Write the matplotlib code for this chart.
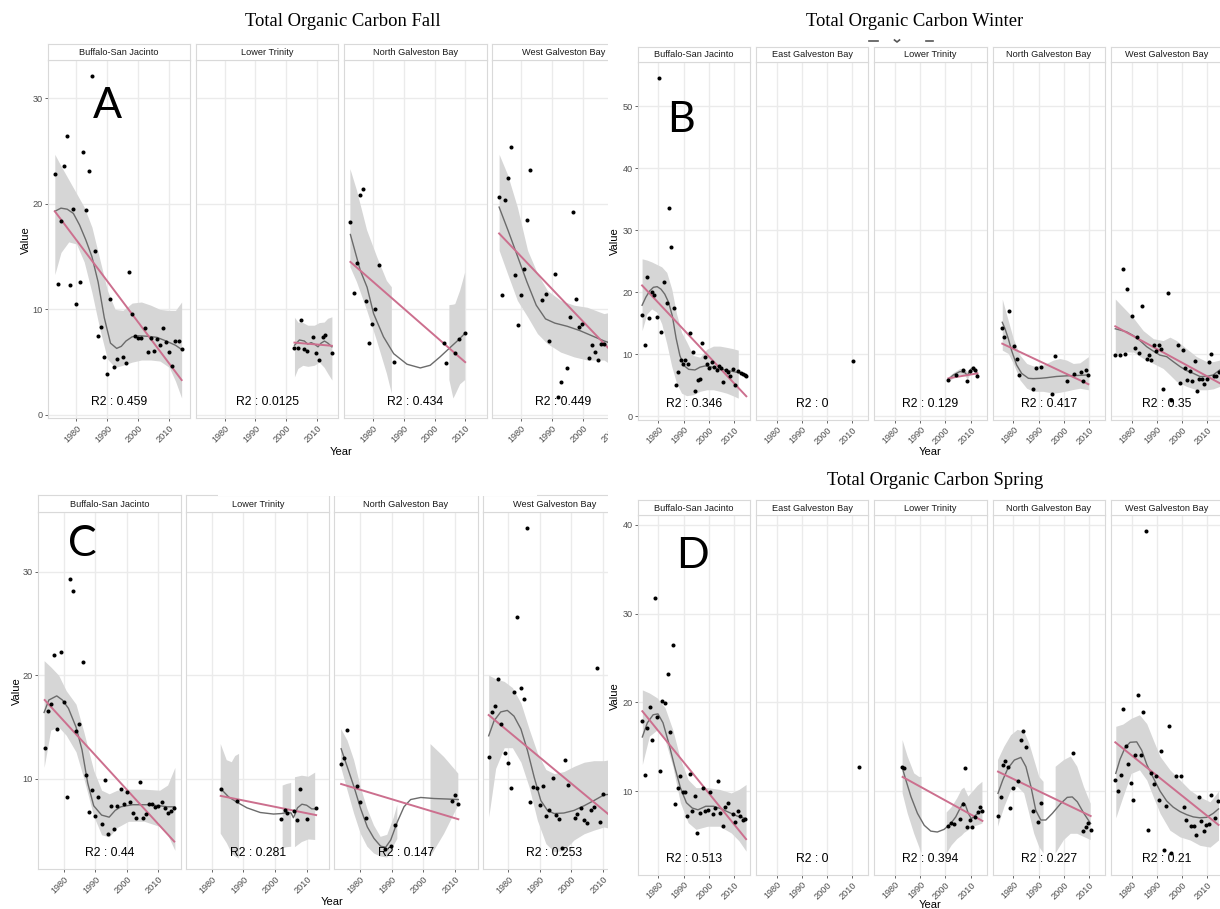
import numpy as np
import matplotlib
matplotlib.use("Agg")
import matplotlib.pyplot as plt
import matplotlib.transforms as mtransforms
from matplotlib.lines import Line2D
from matplotlib.patches import Rectangle

nan = np.nan
W, H = 1220, 909
year_ticks = [1980, 1990, 2000, 2010]

# ================= A : Fall =================
fall_bsj_year = [1973, 1974, 1975, 1976, 1977, 1978, 1979, 1980, 1981, 1982, 1983, 1984,
                 1985, 1986, 1987, 1988, 1989, 1990, 1991, 1992, 1993, 1995, 1996, 1997,
                 1998, 1999, 2000, 2001, 2002, 2003, 2004, 2005, 2006, 2007, 2008, 2009,
                 2010, 2011, 2012, 2013, 2014]
fall_bsj_value = [22.8, 12.4, 18.4, 23.6, 26.4, 12.3, 19.5, 10.5, 12.6, 24.9, 19.4, 23.1,
                  32.1, 15.5, 7.5, 8.3, 5.5, 3.9, 11.0, 4.5, 5.3, 5.5, 4.9, 13.5,
                  9.6, 7.5, 7.3, 7.3, 8.2, 6.0, 7.3, 6.1, 7.2, 6.6, 8.2, 6.9,
                  6.0, 4.6, 7.0, 7.0, 6.2]
fall_bsj_fit = ([1973, 2014], [19.3, 3.3])
fall_bsj_smooth_year = [1973, 1975, 1977, 1979, 1981, 1983, 1985, 1987, 1989, 1991, 1993, 1994.5,
                        1996, 1998, 2000, 2003, 2006, 2009, 2012, 2014]
fall_bsj_smooth = [19.3, 19.6, 19.5, 19.1, 18.0, 16.6, 15.0, 12.6, 9.2, 6.8, 6.3, 6.5,
                   7.0, 7.4, 7.5, 7.45, 7.35, 7.0, 6.6, 6.2]
fall_bsj_band_year = [1973, 1975, 1977.5, 1980, 1982.5, 1985, 1987.5, 1990, 1992.5, 1995, 1998,
                      2001, 2004, 2007, 2010, 2012, 2014]
fall_bsj_band_low = [13.3, 15.4, 16.4, 16.2, 14.5, 11.6, 8.2, 5.3, 4.5, 4.7, 5.0, 5.2, 5.2, 5.1, 4.5, 3.2, 1.6]
fall_bsj_band_high = [24.7, 23.6, 22.3, 21.0, 19.7, 17.8, 14.8, 11.8, 10.0, 9.9, 10.6, 10.7, 10.4, 10.0, 9.9, 9.9, 10.7]

fall_lt_year = [2002.6, 2003.7, 2004.7, 2005.6, 2006.6, 2008.7, 2009.6, 2010.6, 2011.7, 2012.6, 2014.7]
fall_lt_value = [6.3, 6.3, 9.0, 6.25, 6.05, 7.4, 5.85, 5.2, 7.4, 7.6, 5.9]
fall_lt_fit = ([2002.6, 2014.7], [6.85, 6.55])
fall_lt_smooth_year = [2002.6, 2004.2, 2005.8, 2006.9, 2008.0, 2009.1, 2010.2, 2011.2, 2012.3, 2013.4, 2014.7]
fall_lt_smooth = [6.6, 7.1, 7.0, 6.7, 6.85, 6.7, 6.45, 6.8, 7.0, 6.8, 6.45]
fall_lt_band_year = [2002.6, 2003.7, 2005.3, 2006.9, 2009.0, 2010.6, 2012.2, 2013.3, 2014.7]
fall_lt_band_low = [3.6, 4.4, 4.7, 4.6, 4.7, 5.0, 4.5, 3.95, 3.3]
fall_lt_band_high = [9.25, 8.8, 8.75, 8.5, 8.5, 8.75, 8.8, 9.15, 9.3]

fall_ngb_year = [1972.8, 1973.9, 1974.9, 1975.8, 1976.9, 1977.8, 1978.9, 1979.9, 1980.9, 1981.9,
                 1986.8, 2002.9, 2003.8, 2006.7, 2007.8, 2009.9]
fall_ngb_value = [18.3, 11.6, 14.4, 20.8, 21.4, 10.8, 6.85, 8.65, 10.0, 14.2, 5.05, 6.85, 4.9, 5.9, 7.15, 7.75]
fall_ngb_fit = ([1972.8, 2009.9], [14.5, 5.0])
fall_ngb_smooth_year = [1972.8, 1976.0, 1978.2, 1980.3, 1983.5, 1986.8, 1991.1, 1995.4, 1998.6,
                        2001.8, 2005.1, 2007.7, 2009.9]
fall_ngb_smooth = [17.1, 13.7, 12.1, 9.6, 7.4, 5.8, 4.8, 4.45, 4.7, 5.5, 6.4, 7.1, 7.75]
fall_ngb_band_year = [1972.8, 1974.9, 1978.2, 1981.4, 1984.6, 1986.2, nan, 2004.8, 2006.1, 2006.7, 2008.3, 2009.9]
fall_ngb_band_low = [14.0, 12.6, 9.9, 7.0, 3.9, 2.0, nan, 3.3, 1.55, 1.9, 2.9, 3.3]
fall_ngb_band_high = [23.3, 21.3, 17.5, 15.0, 12.7, 12.1, nan, 10.4, 10.45, 10.5, 11.8, 13.5]

fall_wgb_year = [1973.0, 1973.9, 1974.9, 1976.0, 1977.0, 1978.0, 1979.0, 1980.0, 1981.0, 1981.9,
                 1983.0, 1987.0, 1988.0, 1989.0, 1991.0, 1991.9, 1992.9, 1995.1, 1995.9, 1997.0,
                 1998.0, 1998.9, 1999.9, 2002.0, 2003.1, 2004.0, 2005.1, 2005.8, 2006.9]
fall_wgb_value = [20.7, 11.4, 20.4, 22.5, 25.4, 13.3, 8.55, 11.4, 13.8, 18.5,
                  23.2, 10.9, 11.5, 7.0, 13.4, 1.65, 3.1, 4.4, 9.25, 19.2,
                  11.0, 8.3, 8.65, 5.35, 6.6, 5.95, 5.2, 6.7, 6.7]
fall_wgb_fit = ([1973.0, 2014.6], [17.2, 4.4])
fall_wgb_smooth_year = [1973, 1976, 1979, 1982, 1985, 1988, 1991, 1995, 1999, 2003, 2007, 2010, 2014.6]
fall_wgb_smooth = [19.7, 17.4, 15.0, 12.6, 10.4, 9.1, 8.7, 8.4, 8.0, 7.5, 7.0, 6.7, 6.6]
fall_wgb_band_year = [1973, 1975.7, 1978.9, 1982.2, 1985.4, 1988.6, 1992.9, 1997.2, 2001.5, 2006.9, 2010, 2014.6]
fall_wgb_band_low = [15.6, 13.4, 10.85, 9.3, 7.7, 6.75, 5.95, 5.5, 5.2, 5.2, 4.6, 3.0]
fall_wgb_band_high = [24.7, 22.8, 19.7, 15.6, 13.4, 11.8, 10.85, 10.4, 10.2, 9.6, 9.8, 11.0]

# ================= B : Winter =================
winter_bsj_year = [1973.5, 1974.5, 1975.6, 1976.3, 1977.4, 1978.4, 1979.3, 1980.2, 1981.2, 1982.3,
                   1983.2, 1984.1, 1985.1, 1986.0, 1987.0, 1987.9, 1988.8, 1989.7, 1990.7, 1991.6,
                   1992.6, 1993.6, 1994.6, 1995.6, 1996.4, 1997.4, 1998.4, 1999.3, 2000.2, 2001.1,
                   2002.1, 2003.1, 2004.0, 2004.9, 2005.8, 2006.8, 2007.7, 2008.6, 2009.6, 2010.6,
                   2011.7, 2012.6, 2013.5, 2014.3, 2014.9]
winter_bsj_value = [16.4, 11.5, 22.4, 15.8, 20.0, 19.5, 16.0, 54.6, 13.6, 21.6,
                    18.2, 33.6, 27.3, 17.4, 5.05, 7.1, 9.05, 8.4, 9.05, 8.4,
                    13.4, 10.3, 4.1, 5.75, 5.95, 11.8, 9.6, 8.4, 7.8, 8.8,
                    7.9, 7.45, 8.15, 7.8, 5.55, 7.45, 7.1, 6.4, 7.55, 5.05,
                    7.3, 7.0, 6.8, 6.65, 6.5]
winter_bsj_fit = ([1973.5, 2014.9], [21.1, 3.2])
winter_bsj_smooth_year = [1973.5, 1975, 1976.5, 1978, 1979.5, 1981, 1982.5, 1984, 1985.5, 1987, 1988.5,
                          1990, 1992, 1994.5, 1996.5, 1998.5, 2000.5, 2003, 2006.4, 2009.7, 2013, 2014.9]
winter_bsj_smooth = [17.9, 19.2, 20.2, 20.8, 20.9, 20.5, 19.7, 18.4, 16.2, 12.6, 9.8,
                     8.2, 7.55, 7.45, 7.9, 8.1, 8.0, 7.7, 7.45, 7.2, 6.9, 6.65]
winter_bsj_band_year = [1973.5, 1975.4, 1977.3, 1979.3, 1981.3, 1983.3, 1985.3, 1987.2, 1989.2,
                        1991.2, 1993.8, 1996.5, 1999.2, 2001.8, 2004.4, 2007.1, 2009.5, 2011.7]
winter_bsj_band_low = [13.8, 16.5, 17.3, 16.8, 14.9, 11.7, 8.0, 5.3, 3.7, 3.3, 3.45, 4.0, 4.25, 4.25, 4.0, 3.7, 3.3, 2.9]
winter_bsj_band_high = [25.4, 25.2, 24.9, 24.5, 24.1, 23.2, 20.5, 16.5, 13.5, 12.0, 9.8, 9.5, 10.8, 11.3, 11.3, 11.1, 10.9, 10.65]

winter_egb_year = [2010.3]
winter_egb_value = [8.93]

winter_lt_year = [2001.2, 2004.1, 2006.9, 2008.7, 2009.8, 2010.8, 2011.7, 2012.7]
winter_lt_value = [5.85, 6.6, 7.45, 5.6, 7.3, 7.7, 7.45, 6.4]
winter_lt_fit = ([2001.2, 2012.7], [6.1, 6.9])
winter_lt_smooth_year = [2001.2, 2003.2, 2005.8, 2007.8, 2008.7, 2010.1, 2011.2, 2012.7]
winter_lt_smooth = [5.95, 6.65, 7.2, 7.0, 6.55, 7.55, 7.8, 6.8]
winter_lt_band_low = [5.5, 6.25, 6.7, 6.5, 5.95, 7.1, 7.3, 6.15]
winter_lt_band_high = [6.4, 7.05, 7.7, 7.5, 7.2, 8.0, 8.2, 7.45]

winter_ngb_year = [1975.6, 1976.4, 1978.3, 1980.3, 1981.3, 1982.2, 1987.9, 1988.9, 1990.8,
                   1995.5, 1996.4, 2001.3, 2004.1, 2007.0, 2007.8, 2008.7, 2009.8]
winter_ngb_value = [14.3, 12.8, 17.0, 11.4, 9.15, 6.6, 4.35, 7.7, 7.9, 3.55, 9.7, 5.7, 6.75, 7.2, 5.6, 7.45, 6.6]
winter_ngb_fit = ([1975.6, 2009.8], [11.7, 5.15])
winter_ngb_smooth_year = [1975.6, 1976.7, 1978.0, 1979.3, 1981.3, 1983.3, 1986.0, 1987.9, 1990.5,
                          1993.2, 1997.1, 2001.1, 2005.0, 2009.8]
winter_ngb_smooth = [15.15, 14.1, 12.5, 10.6, 8.25, 6.9, 6.1, 6.05, 6.1, 6.2, 6.4, 6.5, 6.55, 6.65]
winter_ngb_band_year = [1975.6, 1978.0, 1980.0, 1982.6, 1985.3, 1987.9, 1991.8, 1995.9, 1998.5,
                        2001.1, 2003.8, 2006.4, 2009.8]
winter_ngb_band_low = [10.65, 10.1, 8.5, 5.85, 4.5, 4.0, 4.0, 3.7, 3.85, 4.05, 4.3, 4.5, 4.25]
winter_ngb_band_high = [18.9, 15.4, 12.5, 9.85, 8.5, 8.1, 8.25, 9.05, 9.3, 9.05, 8.5, 8.6, 9.6]

winter_wgb_year = [1973.5, 1975.4, 1976.5, 1977.4, 1978.3, 1980.3, 1981.2, 1982.1, 1983.0, 1984.0,
                   1986.0, 1986.9, 1987.8, 1988.7, 1989.7, 1990.7, 1991.6, 1992.6, 1994.4, 1995.5,
                   1998.4, 1999.3, 2000.2, 2001.2, 2002.1, 2003.0, 2004.1, 2005.0, 2005.9, 2006.9,
                   2007.8, 2008.8, 2009.8, 2010.7, 2011.6, 2012.7, 2013.6, 2014.5]
winter_wgb_value = [9.85, 9.85, 23.8, 10.0, 20.6, 16.1, 11.0, 12.8, 10.25, 17.7,
                    9.15, 9.85, 9.0, 11.55, 10.5, 11.55, 10.9, 4.35, 19.8, 2.55,
                    11.55, 5.4, 10.65, 7.7, 5.75, 7.3, 5.7, 8.95, 4.1, 6.0,
                    6.0, 5.2, 6.0, 8.8, 10.1, 6.55, 6.4, 7.2]
winter_wgb_fit = ([1973.5, 2015.5], [14.5, 5.2])
winter_wgb_smooth_year = [1973.5, 1975.4, 1978.0, 1980.7, 1983.3, 1986.0, 1988.6, 1991.2, 1993.9,
                          1996.5, 1999.2, 2001.8, 2004.5, 2007.1, 2009.8, 2012.4, 2015.0]
winter_wgb_smooth = [14.1, 13.9, 13.6, 13.0, 12.2, 11.2, 10.5, 9.85, 9.6, 8.8, 8.0, 7.35, 6.9, 6.4, 6.4, 6.65, 7.45]
winter_wgb_band_year = [1973.5, 1976.7, 1980.7, 1984.6, 1988.6, 1992.5, 1995.2, 1997.8, 2001.8,
                        2005.8, 2009.8, 2012.4, 2015.0]
winter_wgb_band_low = [9.85, 10.35, 10.35, 9.3, 8.5, 7.7, 6.65, 5.6, 4.8, 4.25, 4.25, 4.4, 4.8]
winter_wgb_band_high = [18.9, 17.55, 15.85, 13.8, 12.5, 12.2, 12.75, 12.2, 10.9, 9.6, 8.8, 8.8, 9.05]

# ================= C : Summer =================
summer_bsj_year = [1974, 1975, 1976, 1977, 1978, 1979, 1980, 1981, 1982, 1983, 1984, 1985,
                   1986, 1987, 1988, 1989, 1990, 1991, 1992, 1993, 1994, 1995, 1996, 1997,
                   1998, 1999, 2000, 2001, 2002, 2003, 2004, 2005, 2006, 2007, 2008, 2009,
                   2010, 2011, 2012, 2013, 2014, 2015]
summer_bsj_value = [12.95, 16.5, 17.2, 21.9, 14.8, 22.25, 17.4, 8.2, 29.3, 28.1, 14.6, 15.3,
                    21.25, 10.35, 6.8, 8.9, 6.4, 8.2, 5.6, 9.9, 4.7, 7.4, 5.2, 7.4,
                    8.97, 7.6, 8.7, 7.75, 6.7, 6.2, 9.7, 6.2, 6.6, 7.6, 7.6, 7.3,
                    7.4, 7.75, 7.2, 6.7, 6.85, 7.2]
summer_bsj_fit = ([1974, 2015], [17.6, 3.95])
summer_bsj_smooth_year = [1973.8, 1975.3, 1977.8, 1979.6, 1981.5, 1983.9, 1985.8, 1987.6, 1989.5,
                          1992.0, 1994.4, 1996.3, 1998.1, 2001.8, 2006.7, 2010.4, 2012.9, 2015.2]
summer_bsj_smooth = [16.4, 17.6, 18.0, 17.6, 16.8, 15.0, 12.8, 9.6, 7.4, 6.5, 6.3, 6.95, 7.3, 7.5, 7.5, 7.4, 7.3, 7.3]
summer_bsj_band_year = [1973.8, 1975.9, 1978.4, 1980.8, 1983.9, 1986.4, 1989.5, 1992.0, 1994.4,
                        1996.9, 2000.5, 2005.5, 2010.4, 2012.9, 2015.2]
summer_bsj_band_low = [11.1, 14.7, 15.0, 14.2, 12.6, 10.0, 6.4, 4.6, 4.4, 5.3, 5.9, 5.9, 5.4, 4.6, 3.1]
summer_bsj_band_high = [21.4, 20.8, 20.0, 18.5, 17.2, 14.5, 10.8, 8.9, 8.55, 8.9, 9.0, 9.0, 8.9, 9.4, 11.1]

summer_lt_year = [1982.8, 1987.9, 2002.0, 2003.0, 2003.9, 2006.1, 2007.0, 2007.9, 2010.0, 2013.0]
summer_lt_value = [9.05, 7.85, 6.15, 7.0, 6.7, 6.85, 6.0, 8.98, 6.15, 7.2]
summer_lt_fit = ([1982.8, 2013.0], [8.35, 6.5])
summer_lt_smooth_year = [1982.8, 1985.3, 1987.9, 1991.1, 1995.3, 1999.5, 2002.1, 2003.7, 2005.1,
                         2005.8, 2006.4, 2007.1, 2008.5, 2010.0, 2011.6, 2013.0]
summer_lt_smooth = [9.05, 8.25, 7.75, 7.2, 6.75, 6.6, 6.65, 6.75, 6.7, 6.25, 6.65, 7.2, 7.55, 7.45, 7.1, 7.1]
summer_lt_band_year = [1982.8, 1984.7, 1986.3, 1987.4, 1988.6, nan, 2002.4, 2003.7, 2005.1, nan,
                       2006.3, 2008.5, 2010.6, 2012.7]
summer_lt_band_low = [4.7, 3.8, 2.8, 2.5, 2.3, nan, 3.3, 3.4, 3.45, nan, 3.4, 3.9, 4.15, 4.1]
summer_lt_band_high = [13.35, 11.8, 11.6, 12.2, 12.4, nan, 9.35, 9.5, 9.6, nan, 10.15, 10.3, 10.2, 10.6]

summer_ngb_year = [1974.0, 1975.0, 1976.0, 1978.9, 1980.0, 1981.9, 1988.0, 1989.9, 1991.0, 2009.2, 2010.0, 2011.1]
summer_ngb_value = [11.4, 12.0, 14.75, 9.35, 7.75, 6.25, 3.25, 3.55, 5.5, 7.9, 8.45, 7.6]
summer_ngb_fit = ([1974.0, 2011.1], [9.5, 6.1])
summer_ngb_smooth_year = [1974.0, 1976.0, 1978.1, 1980.2, 1982.3, 1984.4, 1986.5, 1988.1, 1989.7,
                          1991.8, 1993.9, 1996.0, 1999.2, 2003.4, 2007.6, 2011.1]
summer_ngb_smooth = [12.9, 11.1, 9.2, 7.1, 5.35, 4.25, 3.5, 3.4, 4.1, 5.85, 7.3, 8.0, 8.2, 8.1, 8.05, 8.0]
summer_ngb_band_year = [1974.0, 1976.0, 1978.1, 1980.2, 1982.3, 1984.4, 1986.5, 1988.6, 1990.7, 1991.8,
                        nan, 2002.3, 2006.6, 2011.1]
summer_ngb_band_low = [11.1, 8.9, 6.65, 4.7, 3.45, 2.8, 2.5, 2.4, 3.6, 4.2, nan, 2.5, 4.7, 7.45]
summer_ngb_band_high = [14.8, 13.7, 11.8, 9.2, 7.1, 5.5, 4.4, 4.6, 6.3, 7.5, nan, 13.35, 12.1, 10.5]

summer_wgb_year = [1973.8, 1974.8, 1975.8, 1976.9, 1977.8, 1978.9, 1979.9, 1980.9, 1981.8, 1982.9,
                   1984.0, 1984.9, 1985.9, 1986.9, 1987.9, 1989.0, 1990.0, 1991.0, 1992.0, 1993.0,
                   1994.0, 1995.0, 1996.0, 1997.1, 1998.0, 1999.0, 2001.0, 2001.9, 2002.9, 2004.0,
                   2005.0, 2006.1, 2007.1, 2008.0, 2009.0, 2010.1]
summer_wgb_value = [12.15, 16.45, 17.0, 19.65, 15.3, 12.45, 11.5, 9.1, 18.4, 25.6,
                    18.8, 17.7, 34.2, 7.8, 9.25, 9.1, 7.45, 9.35, 6.4, 6.95,
                    10.05, 6.5, 6.15, 3.3, 11.85, 9.45, 6.25, 6.65, 7.2, 6.0,
                    5.75, 6.95, 7.3, 20.7, 5.85, 8.5]
summer_wgb_fit = ([1973.8, 2015.0], [16.15, 5.75])
summer_wgb_smooth_year = [1973.8, 1975.5, 1977.6, 1979.7, 1981.8, 1984.0, 1986.1, 1988.2, 1990.3,
                          1992.4, 1994.5, 1997.6, 2000.8, 2004.0, 2007.1, 2010.3, 2015.0]
summer_wgb_smooth = [14.15, 15.6, 16.45, 16.6, 16.05, 14.8, 12.7, 10.15, 7.9, 6.95, 6.65, 6.7, 6.95, 7.4, 7.9, 8.45, 8.6]
summer_wgb_band_year = [1973.8, 1976.0, 1978.7, 1981.3, 1984.0, 1986.6, 1989.2, 1991.9, 1994.5,
                        1997.6, 2000.8, 2004.0, 2007.1, 2010.3, 2015.0]
summer_wgb_band_low = [6.3, 11.0, 13.0, 13.0, 11.6, 9.2, 6.0, 3.75, 2.95, 3.1, 4.1, 4.7, 5.05, 5.35, 5.0]
summer_wgb_band_high = [20.0, 19.65, 19.4, 18.8, 17.3, 14.8, 12.5, 10.9, 10.5, 10.7, 11.2, 11.6, 11.75, 11.75, 12.0]

# ================= D : Spring =================
spring_bsj_year = [1973.6, 1974.5, 1975.6, 1976.5, 1977.6, 1978.7, 1979.6, 1980.6, 1981.5, 1982.6,
                   1983.6, 1984.6, 1985.7, 1986.7, 1987.7, 1988.7, 1989.7, 1990.6, 1991.5, 1992.6,
                   1993.5, 1994.6, 1995.5, 1996.6, 1997.5, 1998.6, 1999.5, 2000.6, 2001.5, 2002.6,
                   2003.5, 2004.5, 2005.5, 2006.5, 2007.6, 2009.5, 2010.6, 2011.5, 2012.5, 2013.6,
                   2014.5]
spring_bsj_value = [17.9, 11.8, 17.1, 19.5, 15.8, 31.7, 18.4, 12.3, 20.2, 19.9,
                    23.2, 16.7, 26.4, 8.6, 10.3, 11.7, 9.9, 9.9, 7.2, 11.9,
                    7.75, 9.5, 5.3, 7.5, 10.4, 7.75, 7.85, 9.9, 7.4, 8.05,
                    11.1, 7.5, 6.05, 8.2, 8.7, 7.4, 6.5, 7.75, 7.2, 6.75,
                    6.9]
spring_bsj_fit = ([1973.6, 2014.8], [19.0, 4.6])
spring_bsj_smooth_year = [1973.6, 1975.6, 1977.9, 1979.8, 1981.8, 1984.1, 1986.4, 1988.7, 1991.1,
                          1993.4, 1995.7, 1998.8, 2001.9, 2005.0, 2008.1, 2011.2, 2014.8]
spring_bsj_smooth = [16.1, 17.7, 18.6, 18.7, 17.7, 15.4, 12.8, 10.4, 8.7, 8.1, 7.9, 8.3, 8.3, 8.0, 7.6, 7.2, 6.9]
spring_bsj_band_year = [1973.6, 1976.4, 1979.5, 1982.6, 1985.7, 1988.7, 1991.8, 1994.9, 1999.5,
                        2004.2, 2008.9, 2012.0, 2014.8]
spring_bsj_band_low = [13.0, 16.2, 16.9, 15.8, 12.8, 8.7, 6.45, 5.7, 6.05, 6.05, 5.3, 4.4, 3.25]
spring_bsj_band_high = [21.4, 21.05, 20.5, 19.4, 16.9, 13.6, 11.3, 10.4, 10.4, 10.2, 9.8, 10.2, 10.75]

spring_egb_year = [2012.8]
spring_egb_value = [12.7]

spring_lt_year = [1982.8, 1983.7, 2000.9, 2002.1, 2003.4, 2005.8, 2006.8, 2007.8, 2008.7, 2009.7,
                  2010.7, 2011.7, 2012.9, 2013.9, 2014.7]
spring_lt_value = [12.67, 12.63, 6.09, 6.43, 6.35, 6.92, 8.6, 12.56, 5.98, 6.73, 5.98, 7.1, 7.67, 8.16, 7.78]
spring_lt_fit = ([1983.0, 2014.7], [11.6, 6.65])
spring_lt_smooth_year = [1982.8, 1984.3, 1986.3, 1988.9, 1991.6, 1994.2, 1996.8, 1999.5, 2002.1,
                         2004.1, 2005.8, 2007.1, 2008.0, 2009.1, 2010.3, 2011.6, 2012.9, 2014.7]
spring_lt_smooth = [12.7, 11.25, 9.4, 7.5, 6.15, 5.5, 5.4, 5.7, 6.35, 7.1, 8.05, 8.7, 8.4, 7.5, 6.9, 7.2, 7.5, 7.85]
spring_lt_band_year = [1983.0, 1985.0, 1987.6, 1989.6, 1990.5, nan, 2000.5, 2002.5, 2004.7, 2006.5,
                       2007.5, 2009.1, 2011.0, 2012.8, 2014.7]
spring_lt_band_low = [9.75, 7.5, 5.2, 3.7, 3.0, nan, 3.0, 3.9, 4.6, 5.0, 5.3, 5.6, 6.0, 6.15, 6.35]
spring_lt_band_high = [15.75, 13.9, 12.0, 11.6, 11.6, nan, 7.6, 8.2, 9.2, 10.2, 10.4, 9.4, 10.0, 10.6, 11.05]

spring_ngb_year = [1973.9, 1974.9, 1975.8, 1976.8, 1977.9, 1978.8, 1980.0, 1981.8, 1983.0, 1983.9,
                   1984.9, 1987.9, 1989.9, 1990.9, 2003.8, 2007.8, 2008.7, 2009.6, 2010.7]
spring_ngb_value = [7.25, 9.35, 12.97, 13.4, 12.75, 8.15, 10.4, 11.15, 15.75, 16.8,
                    15.0, 7.8, 6.55, 8.7, 14.3, 5.5, 6.0, 6.43, 5.6]
spring_ngb_fit = ([1973.9, 2010.7], [12.2, 7.2])
spring_ngb_smooth_year = [1973.9, 1975.8, 1977.8, 1980.4, 1983.0, 1985.0, 1987.0, 1988.9, 1990.9,
                          1992.9, 1995.5, 1998.8, 2001.4, 2003.4, 2005.4, 2008.0, 2010.7]
spring_ngb_smooth = [9.75, 11.25, 12.55, 13.5, 13.8, 12.75, 10.5, 7.85, 6.75, 6.75, 7.5, 8.6, 9.3, 9.35, 8.8, 7.5, 6.35]
spring_ngb_band_year = [1973.9, 1976.4, 1979.1, 1981.7, 1984.3, 1986.3, 1988.3, 1990.3, 1992.0, nan,
                        1996.8, 2000.1, 2002.8, 2005.4, 2008.0, 2010.7]
spring_ngb_band_low = [6.0, 8.2, 10.1, 10.5, 9.75, 7.5, 5.2, 3.7, 3.0, nan, 3.0, 4.5, 5.2, 5.2, 4.85, 4.5]
spring_ngb_band_high = [13.5, 15.0, 16.3, 16.9, 16.7, 15.4, 13.5, 11.6, 11.05, nan, 12.75, 13.5, 13.9, 12.75, 10.5, 8.6]

spring_wgb_year = [1973.4, 1974.5, 1975.6, 1976.5, 1977.6, 1978.5, 1979.6, 1980.5, 1981.5, 1982.5,
                   1983.6, 1984.5, 1985.6, 1986.6, 1987.6, 1988.7, 1989.6, 1990.7, 1991.6, 1992.7,
                   1993.8, 1994.7, 1995.6, 1997.7, 1999.7, 2000.8, 2001.7, 2003.7, 2004.6, 2005.7,
                   2006.6, 2007.7, 2008.6, 2009.7, 2010.8, 2011.7, 2013.1, 2014.2]
spring_wgb_value = [11.25, 10.05, 11.8, 19.25, 15.1, 13.1, 10.95, 9.05, 14.05, 20.8,
                    14.05, 18.9, 39.25, 5.6, 12.05, 10.8, 11.75, 9.05, 14.5, 3.35,
                    8.3, 17.3, 3.0, 11.7, 11.7, 8.2, 6.8, 6.05, 6.05, 5.05,
                    9.35, 6.6, 5.5, 6.2, 6.25, 9.6, 7.0, 8.9]
spring_wgb_fit = ([1973.5, 2014.5], [15.5, 6.2])
spring_wgb_smooth_year = [1973.7, 1975.4, 1977.4, 1979.4, 1982.0, 1984.0, 1986.0, 1988.6, 1991.3,
                          1993.9, 1996.5, 1999.2, 2001.9, 2004.5, 2007.1, 2009.8, 2012.4, 2014.5]
spring_wgb_smooth = [12.0, 13.6, 14.9, 15.5, 15.55, 14.6, 13.0, 11.5, 10.0, 8.9, 8.2, 7.7, 7.35, 7.1, 7.0, 7.05, 7.5, 8.0]
spring_wgb_band_year = [1973.7, 1976.5, 1979.8, 1983.1, 1986.0, 1988.6, 1991.3, 1995.2, 1999.2,
                        2003.2, 2007.1, 2011.1, 2014.5]
spring_wgb_band_low = [7.0, 9.35, 12.0, 12.4, 11.25, 9.35, 7.5, 5.6, 4.85, 4.5, 3.9, 3.7, 4.5]
spring_wgb_band_high = [17.3, 17.55, 18.2, 18.6, 17.6, 15.75, 13.9, 12.4, 11.25, 10.1, 9.35, 8.8, 10.0]


def facet(name, r2, year, value, fit=None, smooth=None, band=None):
    return dict(name=name, r2=r2, year=year, value=value, fit=fit, smooth=smooth, band=band)


panels = [
    dict(title="Total Organic Carbon Fall", title_xy=(343, 26), letter="A", letter_xy=(107.5, 118),
         lefts=[48, 196.1, 344.2, 492.3], width=142.3, strip=(44, 59.5), top=60, bottom=418.5,
         xlim=(1970.8, 2016.8), ylim=(-0.345, 33.645), yticks=[0, 10, 20, 30], r2_y=1.2,
         value_xy=(26, 240), year_xy=(341, 451.5), z=1,
         facets=[
             facet("Buffalo-San Jacinto", "R2 : 0.459", fall_bsj_year, fall_bsj_value, fall_bsj_fit,
                   (fall_bsj_smooth_year, fall_bsj_smooth),
                   (fall_bsj_band_year, fall_bsj_band_low, fall_bsj_band_high)),
             facet("Lower Trinity", "R2 : 0.0125", fall_lt_year, fall_lt_value, fall_lt_fit,
                   (fall_lt_smooth_year, fall_lt_smooth),
                   (fall_lt_band_year, fall_lt_band_low, fall_lt_band_high)),
             facet("North Galveston Bay", "R2 : 0.434", fall_ngb_year, fall_ngb_value, fall_ngb_fit,
                   (fall_ngb_smooth_year, fall_ngb_smooth),
                   (fall_ngb_band_year, fall_ngb_band_low, fall_ngb_band_high)),
             facet("West Galveston Bay", "R2 : 0.449", fall_wgb_year, fall_wgb_value, fall_wgb_fit,
                   (fall_wgb_smooth_year, fall_wgb_smooth),
                   (fall_wgb_band_year, fall_wgb_band_low, fall_wgb_band_high)),
         ]),
    dict(title="Total Organic Carbon Winter", title_xy=(914.5, 25.5), letter="B", letter_xy=(681.4, 131.5),
         lefts=[637.8, 756.1, 874.4, 992.7, 1111.0], width=112.3, strip=(46.7, 61.7), top=61.7, bottom=420,
         xlim=(1971.8, 2016.4), ylim=(-0.63, 57.23), yticks=[0, 10, 20, 30, 40, 50], r2_y=2.0,
         value_xy=(615, 241), year_xy=(930.5, 452), z=6,
         facets=[
             facet("Buffalo-San Jacinto", "R2 : 0.346", winter_bsj_year, winter_bsj_value, winter_bsj_fit,
                   (winter_bsj_smooth_year, winter_bsj_smooth),
                   (winter_bsj_band_year, winter_bsj_band_low, winter_bsj_band_high)),
             facet("East Galveston Bay", "R2 : 0", winter_egb_year, winter_egb_value),
             facet("Lower Trinity", "R2 : 0.129", winter_lt_year, winter_lt_value, winter_lt_fit,
                   (winter_lt_smooth_year, winter_lt_smooth),
                   (winter_lt_smooth_year, winter_lt_band_low, winter_lt_band_high)),
             facet("North Galveston Bay", "R2 : 0.417", winter_ngb_year, winter_ngb_value, winter_ngb_fit,
                   (winter_ngb_smooth_year, winter_ngb_smooth),
                   (winter_ngb_band_year, winter_ngb_band_low, winter_ngb_band_high)),
             facet("West Galveston Bay", "R2 : 0.35", winter_wgb_year, winter_wgb_value, winter_wgb_fit,
                   (winter_wgb_smooth_year, winter_wgb_smooth),
                   (winter_wgb_band_year, winter_wgb_band_low, winter_wgb_band_high)),
         ]),
    dict(title="Total Organic Carbon Summer", title_xy=(353, 485.5), letter="C", letter_xy=(82.7, 556.5),
         lefts=[38, 186.2, 334.4, 482.6], width=143.2, strip=(495, 511.7), top=511.7, bottom=869.3,
         xlim=(1971.87, 2017.2), ylim=(1.27, 35.77), yticks=[10, 20, 30], r2_y=2.84,
         value_xy=(16.5, 690.8), year_xy=(331.8, 901.7), z=1,
         facets=[
             facet("Buffalo-San Jacinto", "R2 : 0.44", summer_bsj_year, summer_bsj_value, summer_bsj_fit,
                   (summer_bsj_smooth_year, summer_bsj_smooth),
                   (summer_bsj_band_year, summer_bsj_band_low, summer_bsj_band_high)),
             facet("Lower Trinity", "R2 : 0.281", summer_lt_year, summer_lt_value, summer_lt_fit,
                   (summer_lt_smooth_year, summer_lt_smooth),
                   (summer_lt_band_year, summer_lt_band_low, summer_lt_band_high)),
             facet("North Galveston Bay", "R2 : 0.147", summer_ngb_year, summer_ngb_value, summer_ngb_fit,
                   (summer_ngb_smooth_year, summer_ngb_smooth),
                   (summer_ngb_band_year, summer_ngb_band_low, summer_ngb_band_high)),
             facet("West Galveston Bay", "R2 : 0.253", summer_wgb_year, summer_wgb_value, summer_wgb_fit,
                   (summer_wgb_smooth_year, summer_wgb_smooth),
                   (summer_wgb_band_year, summer_wgb_band_low, summer_wgb_band_high)),
         ]),
    dict(title="Total Organic Carbon Spring", title_xy=(935, 485), letter="D", letter_xy=(692.7, 568),
         lefts=[637.8, 756.1, 874.4, 992.7, 1111.0], width=112.3, strip=(500, 515), top=515, bottom=875,
         xlim=(1971.8, 2016.4), ylim=(0.56, 41.09), yticks=[10, 20, 30, 40], r2_y=2.41,
         value_xy=(615, 696), year_xy=(930.5, 905), z=6,
         facets=[
             facet("Buffalo-San Jacinto", "R2 : 0.513", spring_bsj_year, spring_bsj_value, spring_bsj_fit,
                   (spring_bsj_smooth_year, spring_bsj_smooth),
                   (spring_bsj_band_year, spring_bsj_band_low, spring_bsj_band_high)),
             facet("East Galveston Bay", "R2 : 0", spring_egb_year, spring_egb_value),
             facet("Lower Trinity", "R2 : 0.394", spring_lt_year, spring_lt_value, spring_lt_fit,
                   (spring_lt_smooth_year, spring_lt_smooth),
                   (spring_lt_band_year, spring_lt_band_low, spring_lt_band_high)),
             facet("North Galveston Bay", "R2 : 0.227", spring_ngb_year, spring_ngb_value, spring_ngb_fit,
                   (spring_ngb_smooth_year, spring_ngb_smooth),
                   (spring_ngb_band_year, spring_ngb_band_low, spring_ngb_band_high)),
             facet("West Galveston Bay", "R2 : 0.21", spring_wgb_year, spring_wgb_value, spring_wgb_fit,
                   (spring_wgb_smooth_year, spring_wgb_smooth),
                   (spring_wgb_band_year, spring_wgb_band_low, spring_wgb_band_high)),
         ]),
]

GRID = "#ebebeb"
FRAME = "#d9d9d9"
TICK = "#4d4d4d"
BAND = "#d6d6d6"
SMOOTH = "#6b6b6b"
FIT = "#cc6f8e"

plt.rcParams["font.family"] = ["Liberation Sans", "DejaVu Sans"]
fig = plt.figure(figsize=(W / 100, H / 100), dpi=100)


def box(x0, y0, x1, y1):
    # pixel box (top-left origin) -> figure fraction rect
    return [x0 / W, 1 - y1 / H, (x1 - x0) / W, (y1 - y0) / H]


for p in panels:
    z = p["z"]
    for i, f in enumerate(p["facets"]):
        x0 = p["lefts"][i]
        x1 = x0 + p["width"]
        ax = fig.add_axes(box(x0, p["top"], x1, p["bottom"]), zorder=z)
        ax.set_xlim(*p["xlim"])
        ax.set_ylim(*p["ylim"])
        ax.set_xticks(year_ticks)
        ax.set_xticklabels([str(t) for t in year_ticks], rotation=45, ha="right", va="top",
                           rotation_mode="anchor")
        ax.set_yticks(p["yticks"])
        ax.grid(True, color=GRID, lw=1.0)
        ax.set_axisbelow(True)
        for sp in ax.spines.values():
            sp.set_color(FRAME)
            sp.set_linewidth(0.8)
        ax.tick_params(axis="both", length=2.2, width=0.6, color=TICK, labelcolor=TICK,
                       labelsize=6.6, pad=1.5)
        if i > 0:
            ax.tick_params(axis="y", left=False, labelleft=False)
        if f["band"] is not None:
            by, lo, hi = f["band"]
            ax.fill_between(by, lo, hi, color=BAND, lw=0, zorder=2)
        if f["smooth"] is not None:
            ax.plot(*f["smooth"], color=SMOOTH, lw=1.0, zorder=3)
        if f["fit"] is not None:
            ax.plot(*f["fit"], color=FIT, lw=1.4, zorder=4)
        ax.scatter(f["year"], f["value"], s=8.5, color="black", lw=0, zorder=5)
        trans = mtransforms.blended_transform_factory(ax.transAxes, ax.transData)
        ax.text(0.5, p["r2_y"], f["r2"], transform=trans, ha="center", va="center",
                fontsize=8.8, color="black", zorder=6)

        sx = fig.add_axes(box(x0, p["strip"][0], x1, p["strip"][1]), zorder=z)
        sx.set_xticks([])
        sx.set_yticks([])
        for sp in sx.spines.values():
            sp.set_color(FRAME)
            sp.set_linewidth(0.8)
        sx.text(0.5, 0.45, f["name"], transform=sx.transAxes, ha="center", va="center",
                fontsize=6.6, color="#1a1a1a")

    tz = z + 1
    fig.text(p["title_xy"][0] / W, 1 - p["title_xy"][1] / H, p["title"], ha="center", va="baseline",
             fontsize=13.4, family=["Liberation Serif", "DejaVu Serif"], zorder=tz)
    fig.text(p["letter_xy"][0] / W, 1 - p["letter_xy"][1] / H, p["letter"], ha="center", va="baseline",
             fontsize=31, family=["Lato", "DejaVu Sans"], zorder=tz)
    fig.text(p["value_xy"][0] / W, 1 - p["value_xy"][1] / H, "Value", rotation=90, ha="center",
             va="center", fontsize=8, zorder=tz)
    fig.text(p["year_xy"][0] / W, 1 - p["year_xy"][1] / H, "Year", ha="center", va="center",
             fontsize=8, zorder=tz)

# left panels are cropped on their right side in the composite
fig.add_artist(Rectangle((608 / W, 0), (637.3 - 608) / W, 1, transform=fig.transFigure,
                         fc="white", ec="none", zorder=5))
# summer title box hides part of the strip tops
fig.add_artist(Rectangle((218 / W, 1 - 496.3 / H), (537 - 218) / W, (496.3 - 470) / H,
                         transform=fig.transFigure, fc="white", ec="none", zorder=5))
# cut-off fragments under the winter title
for xs, ys in [([869, 878], [41, 41]), ([894.5, 897, 899.5], [40, 42, 40]), ([925.5, 932.5], [41, 41])]:
    fig.add_artist(Line2D([x / W for x in xs], [1 - y / H for y in ys], transform=fig.transFigure,
                          color="#555555", lw=1.2, zorder=7))

fig.savefig("out.png", dpi=100)
